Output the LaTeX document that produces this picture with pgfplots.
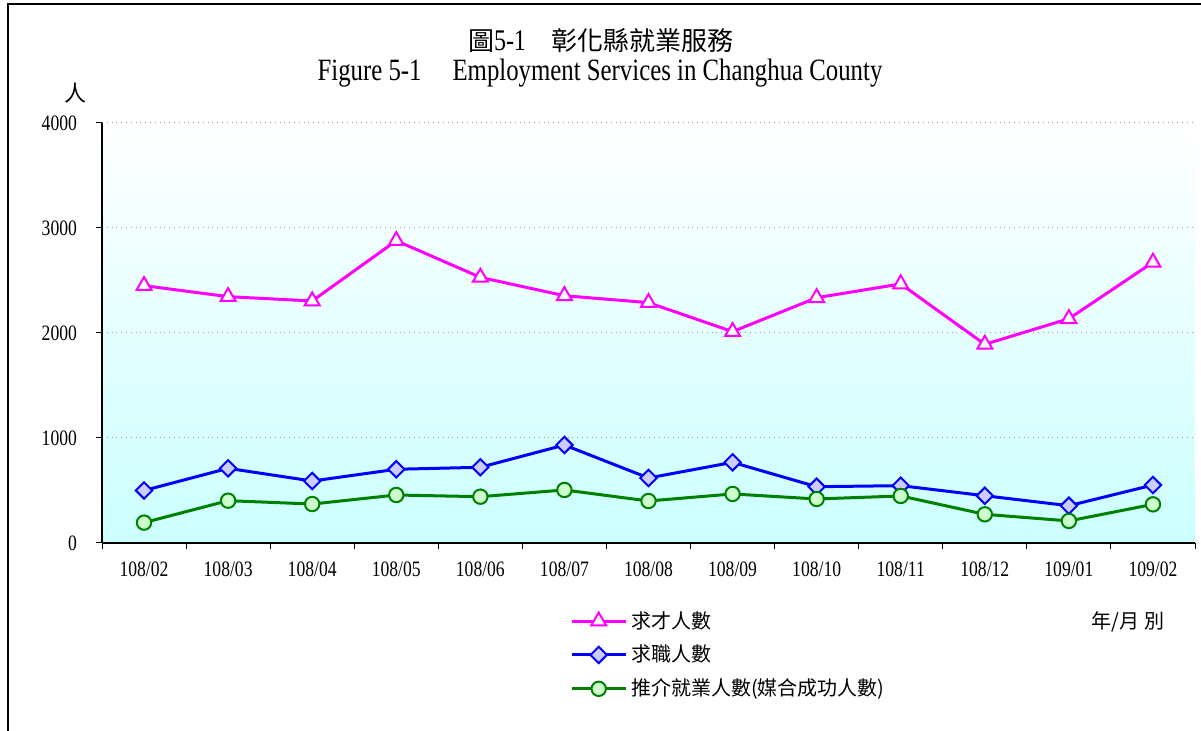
\documentclass[border=0pt]{standalone}
\usepackage{fontspec}
\usepackage{pgfplots}
\pgfplotsset{compat=1.18}
\setmainfont{Liberation Serif}
\newfontfamily\condfont[FakeStretch=0.8]{Liberation Serif}
\newfontfamily\cjk{Noto Sans CJK TC}

\definecolor{talent}{RGB}{255,0,255}
\definecolor{seeker}{RGB}{0,0,255}
\definecolor{seekerfill}{RGB}{204,204,255}
\definecolor{placed}{RGB}{0,128,0}
\definecolor{placedfill}{RGB}{204,255,204}

\begin{document}
\begin{tikzpicture}[x=0.5pt,y=0.5pt]
% canvas 1201 x 731 px, 1px = 0.5pt
\path[use as bounding box] (0,0) rectangle (1201,731);
\draw[line width=0.6pt] (8,0) -- (8,727) -- (1201,727);

\node[font=\cjk\fontsize{13}{15}\selectfont] at (601,690) {圖{\condfont\fontsize{15}{17}\selectfont 5-1}\quad 彰化縣就業服務};
\node[font=\condfont\fontsize{15.5}{18}\selectfont] at (600,658) {Figure 5-1\quad Employment Services in Changhua County};
\node[font=\cjk\fontsize{11}{13}\selectfont] at (75,638) {人};
\node[font=\cjk\fontsize{10}{12}\selectfont] at (1128,109) {年/月 別};

\begin{axis}[
    at={(51pt,94pt)}, anchor=south west,
    scale only axis,
    width=546.5pt, height=210pt,
    xmin=0, xmax=13, ymin=0, ymax=4000,
    axis lines*=left,
    axis line style={line width=0.9pt},
    axis background/.style={shade, top color=white, bottom color=cyan!20},
    xtick={0.5,1.5,...,12.5},
    xticklabels={108/02,108/03,108/04,108/05,108/06,108/07,108/08,108/09,108/10,108/11,108/12,109/01,109/02},
    major x tick style={draw=none},
    minor xtick={0,1,...,13},
    minor tick length=3pt,
    ytick={0,1000,2000,3000,4000},
    yticklabels={0,1000,2000,3000,4000},
    tick align=outside,
    major tick length=3pt,
    tick style={black, line width=0.5pt},
    ymajorgrids,
    major grid style={gray!80, dotted, line width=0.5pt},
    ticklabel style={font=\condfont\fontsize{11}{13}\selectfont},
    xticklabel style={yshift=-3pt},
    yticklabel style={xshift=-6pt},
    legend style={at={(0.428,-0.152)}, anchor=north west, draw=none, fill=none,
        font=\cjk\fontsize{10}{12}\selectfont, row sep=3pt, inner sep=0pt},
    legend cell align=left,
    legend image code/.code={%
        \draw[mark repeat=2,mark phase=2,#1] plot coordinates {(0pt,0pt) (13.5pt,0pt) (27pt,0pt)};},
]
\addplot[talent, line width=1.5pt, mark=triangle*, mark size=4.3pt,
    mark options={fill=white, line width=1pt}] coordinates {
    (0.5,2451) (1.5,2346) (2.5,2305) (3.5,2879) (4.5,2530) (5.5,2355) (6.5,2289)
    (7.5,2013) (8.5,2336) (9.5,2467) (10.5,1892) (11.5,2136) (12.5,2673)
};
\addlegendentry{求才人數}
\addplot[seeker, line width=1.5pt, mark=square*, mark size=2.9pt,
    mark options={fill=seekerfill, line width=1pt, rotate=45}] coordinates {
    (0.5,500) (1.5,711) (2.5,590) (3.5,702) (4.5,721) (5.5,933) (6.5,619)
    (7.5,768) (8.5,536) (9.5,546) (10.5,450) (11.5,355) (12.5,552)
};
\addlegendentry{求職人數}
\addplot[placed, line width=1.5pt, mark=*, mark size=3.6pt,
    mark options={fill=placedfill, line width=1pt}] coordinates {
    (0.5,194) (1.5,403) (2.5,371) (3.5,457) (4.5,441) (5.5,505) (6.5,400)
    (7.5,467) (8.5,419) (9.5,448) (10.5,273) (11.5,210) (12.5,368)
};
\addlegendentry{推介就業人數(媒合成功人數)}
\end{axis}
\end{tikzpicture}
\end{document}
